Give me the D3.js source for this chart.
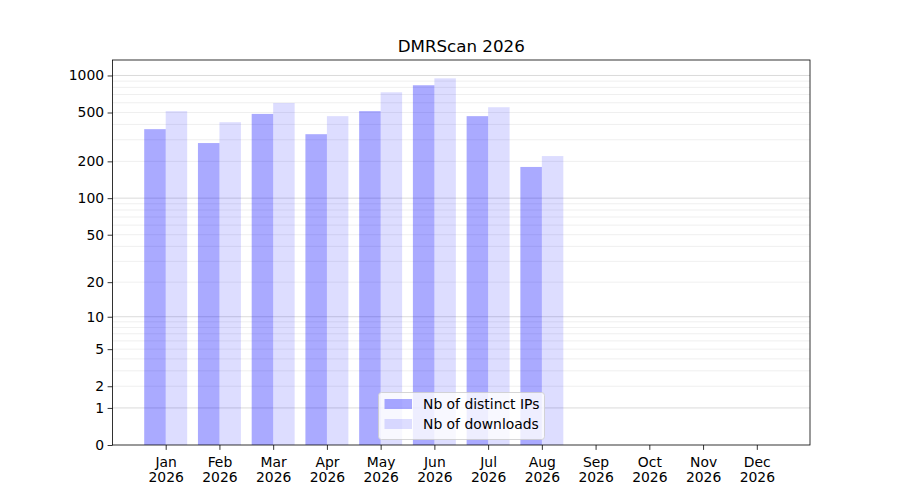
<!DOCTYPE html>
<html>
<head>
<meta charset="utf-8">
<script src="https://cdn.jsdelivr.net/npm/d3@7"></script>
<style>
  body { margin: 0; background: #fff; }
  text { font-family: "DejaVu Sans", sans-serif; fill: #000; }
</style>
</head>
<body>
<div id="container"></div>
<script>
/* ---------- DATA ---------- */
const months = ["Jan", "Feb", "Mar", "Apr", "May", "Jun", "Jul", "Aug", "Sep", "Oct", "Nov", "Dec"];
const year = "2026";
const distinctIPs = [366, 282, 487, 333, 513, 833, 467, 180, 0, 0, 0, 0];
const downloads = [513, 417, 598, 467, 730, 948, 552, 221, 0, 0, 0, 0];
const majorTicks = [0, 1, 2, 5, 10, 20, 50, 100, 200, 500, 1000];
const gridMajor = [1, 10, 100, 1000];
const gridMinor = [2, 3, 4, 5, 6, 7, 8, 9, 20, 30, 40, 50, 60, 70, 80, 90, 200, 300, 400, 500, 600, 700, 800, 900];

/* ---------- CONSTANTS ---------- */
const width = 900,
  height = 500,
  margin = { top: 60, bottom: 55, left: 112.5, right: 90 },
  barW = 0.4;

const svg = d3.select("#container")
  .append("svg")
  .attr("width", width)
  .attr("height", height);

// + SCALES
// x: bars span -0.4..11.4, matplotlib adds 5% margin each side
const span = (months.length - 1 + barW) - (-barW);
xScale = d3.scaleLinear()
  .domain([-barW - span * 0.05, months.length - 1 + barW + span * 0.05])
  .range([margin.left, width - margin.right]);

// y: log(1+x) scale, top = 5% margin in transformed space
const maxV = d3.max(downloads.concat(distinctIPs));
const yTop = Math.expm1(Math.log1p(maxV) * 1.05);
yScale = d3.scaleSymlog()
  .constant(1)
  .domain([0, yTop])
  .range([height - margin.bottom, margin.top]);

const plotL = margin.left, plotR = width - margin.right,
  plotT = margin.top, plotB = height - margin.bottom;

// + GRID
svg.append("g")
  .selectAll("line")
  .data(gridMinor)
  .join("line")
  .attr("x1", plotL).attr("x2", plotR)
  .attr("y1", d => yScale(d)).attr("y2", d => yScale(d))
  .attr("stroke", "#b0b0b0")
  .attr("stroke-opacity", 0.25)
  .attr("stroke-width", 0.8);

svg.append("g")
  .selectAll("line")
  .data(gridMajor)
  .join("line")
  .attr("x1", plotL).attr("x2", plotR)
  .attr("y1", d => yScale(d)).attr("y2", d => yScale(d))
  .attr("stroke", "#b0b0b0")
  .attr("stroke-opacity", 0.6)
  .attr("stroke-width", 0.8);

// + BARS
const bars = svg.append("g");
bars.selectAll("rect.ips")
  .data(distinctIPs)
  .join("rect")
  .attr("class", "ips")
  .attr("x", (d, i) => xScale(i - barW))
  .attr("width", (d, i) => xScale(i) - xScale(i - barW))
  .attr("y", d => yScale(d))
  .attr("height", d => yScale(0) - yScale(d))
  .attr("fill", "blue")
  .attr("fill-opacity", 0.333);

bars.selectAll("rect.dl")
  .data(downloads)
  .join("rect")
  .attr("class", "dl")
  .attr("x", (d, i) => xScale(i))
  .attr("width", (d, i) => xScale(i + barW) - xScale(i))
  .attr("y", d => yScale(d))
  .attr("height", d => yScale(0) - yScale(d))
  .attr("fill", "blue")
  .attr("fill-opacity", 0.133);

// + AXES
const yAxis = d3.axisLeft(yScale)
  .tickValues(majorTicks)
  .tickFormat(d3.format("d"))
  .tickSize(4.9)
  .tickPadding(3.5);

const gy = svg.append("g")
  .attr("transform", `translate(${plotL},0)`)
  .call(yAxis);
gy.select(".domain").remove();
gy.selectAll("text").style("font-family", "DejaVu Sans").style("font-size", "13.9px");
gy.selectAll("line").attr("stroke-width", 0.8);

const xAxis = d3.axisBottom(xScale)
  .tickValues(d3.range(months.length))
  .tickFormat("")
  .tickSize(4.9);

const gx = svg.append("g")
  .attr("transform", `translate(0,${plotB})`)
  .call(xAxis);
gx.select(".domain").remove();
gx.selectAll("line").attr("stroke-width", 0.8);

gx.selectAll(".tick")
  .append("text")
  .attr("text-anchor", "middle")
  .style("font-size", "13.9px")
  .selectAll("tspan")
  .data((d, i) => [months[d], year])
  .join("tspan")
  .attr("x", 0)
  .attr("y", (d, i) => 21.5 + i * 15.5)
  .text(d => d);

// frame
svg.append("rect")
  .attr("x", plotL).attr("y", plotT)
  .attr("width", plotR - plotL).attr("height", plotB - plotT)
  .attr("fill", "none")
  .attr("stroke", "#000")
  .attr("stroke-width", 0.8);

// + TITLE
svg.append("text")
  .attr("x", (plotL + plotR) / 2)
  .attr("y", plotT - 8)
  .attr("text-anchor", "middle")
  .style("font-size", "16.7px")
  .text("DMRScan " + year);

// + LEGEND
const legendItems = [
  { label: "Nb of distinct IPs", op: 0.333 },
  { label: "Nb of downloads", op: 0.133 }
];
const lg = svg.append("g").attr("transform", "translate(378.5,392.5)");
lg.append("rect")
  .attr("width", 166).attr("height", 47)
  .attr("rx", 3)
  .attr("fill", "#fff").attr("fill-opacity", 0.8)
  .attr("stroke", "#cccccc").attr("stroke-width", 0.8);
const li = lg.selectAll("g.item")
  .data(legendItems)
  .join("g")
  .attr("class", "item")
  .attr("transform", (d, i) => `translate(0,${i * 20})`);
li.append("rect")
  .attr("x", 6).attr("y", 6.5)
  .attr("width", 27.5).attr("height", 10)
  .attr("fill", "blue")
  .attr("fill-opacity", d => d.op);
li.append("text")
  .attr("x", 44.5).attr("y", 16.5)
  .style("font-size", "13.9px")
  .text(d => d.label);
</script>
</body>
</html>
